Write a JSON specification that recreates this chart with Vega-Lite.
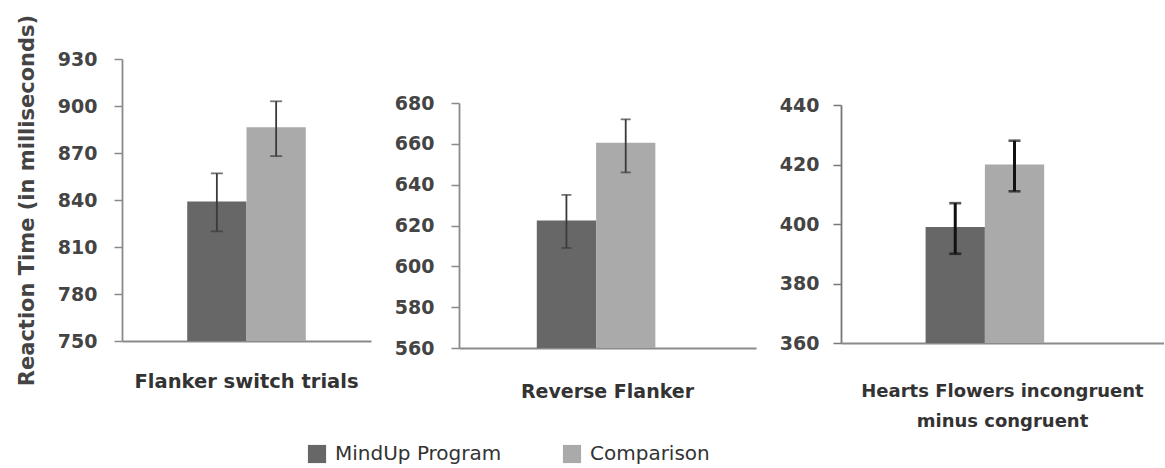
{
  "$schema": "https://vega.github.io/schema/vega-lite/v6.json",
  "padding": {"left": 16, "top": 14, "right": 0, "bottom": 0},
  "background": "white",
  "data": {"values": [
    {"task": "Flanker switch trials", "group": "MindUp Program", "mean": 839, "lo": 820, "hi": 857},
    {"task": "Flanker switch trials", "group": "Comparison", "mean": 886.5, "lo": 868, "hi": 903},
    {"task": "Reverse Flanker", "group": "MindUp Program", "mean": 622.5, "lo": 609, "hi": 635},
    {"task": "Reverse Flanker", "group": "Comparison", "mean": 660.5, "lo": 646, "hi": 672},
    {"task": "Hearts Flowers incongruent minus congruent", "group": "MindUp Program", "mean": 399, "lo": 390, "hi": 407},
    {"task": "Hearts Flowers incongruent minus congruent", "group": "Comparison", "mean": 420, "lo": 411, "hi": 428}
  ]},
  "spacing": 23,
  "hconcat": [
    {
      "width": 249, "height": 282,
      "transform": [{"filter": "datum.task == 'Flanker switch trials'"}],
      "encoding": {
        "x": {"field": "task", "type": "nominal", "scale": {"paddingOuter": 0.55, "paddingInner": 0}, "axis": {"title": null, "labelPadding": 31, "labelFontSize": 19.5}},
        "xOffset": {"field": "group", "type": "nominal", "sort": ["MindUp Program", "Comparison"], "scale": {"paddingInner": 0, "paddingOuter": 0}}
      },
      "layer": [
        {"mark": {"type": "bar", "clip": true},
         "encoding": {
           "y": {"field": "mean", "type": "quantitative", "scale": {"domain": [750, 930], "zero": false, "nice": false},
                 "axis": {"values": [750, 780, 810, 840, 870, 900, 930], "title": "Reaction Time (in milliseconds)"}},
           "color": {"field": "group", "type": "nominal", "scale": {"domain": ["MindUp Program", "Comparison"], "range": ["#676767", "#aaaaaa"]}, "legend": {"title": null}}
         }},
        {"mark": {"type": "rule", "color": "#3a3a3a", "strokeWidth": 1.8},
         "encoding": {"y": {"field": "lo", "type": "quantitative"}, "y2": {"field": "hi"}}},
        {"mark": {"type": "tick", "color": "#3a3a3a", "size": 12, "thickness": 1.8},
         "encoding": {"y": {"field": "lo", "type": "quantitative"}}},
        {"mark": {"type": "tick", "color": "#3a3a3a", "size": 12, "thickness": 1.8},
         "encoding": {"y": {"field": "hi", "type": "quantitative"}}}
      ]
    },
    {
      "width": 297, "height": 289,
      "transform": [{"filter": "datum.task == 'Reverse Flanker'"}],
      "encoding": {
        "x": {"field": "task", "type": "nominal", "scale": {"paddingOuter": 0.55, "paddingInner": 0}, "axis": {"title": null, "labelPadding": 34, "labelFontSize": 19}},
        "xOffset": {"field": "group", "type": "nominal", "sort": ["MindUp Program", "Comparison"], "scale": {"paddingInner": 0, "paddingOuter": 0}}
      },
      "layer": [
        {"mark": {"type": "bar", "clip": true},
         "encoding": {
           "y": {"field": "mean", "type": "quantitative", "scale": {"domain": [560, 680], "zero": false, "nice": false, "range": [289, 44]},
                 "axis": {"values": [560, 580, 600, 620, 640, 660, 680], "title": null}},
           "color": {"field": "group", "type": "nominal", "scale": {"domain": ["MindUp Program", "Comparison"], "range": ["#676767", "#aaaaaa"]}, "legend": {"title": null}}
         }},
        {"mark": {"type": "rule", "color": "#3a3a3a", "strokeWidth": 1.8},
         "encoding": {"y": {"field": "lo", "type": "quantitative"}, "y2": {"field": "hi"}}},
        {"mark": {"type": "tick", "color": "#3a3a3a", "size": 10, "thickness": 1.8},
         "encoding": {"y": {"field": "lo", "type": "quantitative"}}},
        {"mark": {"type": "tick", "color": "#3a3a3a", "size": 10, "thickness": 1.8},
         "encoding": {"y": {"field": "hi", "type": "quantitative"}}}
      ]
    },
    {
      "width": 323, "height": 284,
      "transform": [{"filter": "datum.task == 'Hearts Flowers incongruent minus congruent'"}],
      "encoding": {
        "x": {"field": "task", "type": "nominal", "scale": {"paddingOuter": 0.55, "paddingInner": 0},
              "axis": {"title": null, "labelPadding": 39, "labelFontSize": 18, "labelExpr": "['Hearts Flowers incongruent', 'minus congruent']", "labelLineHeight": 30}},
        "xOffset": {"field": "group", "type": "nominal", "sort": ["MindUp Program", "Comparison"], "scale": {"paddingInner": 0, "paddingOuter": 0}}
      },
      "layer": [
        {"mark": {"type": "bar", "clip": true},
         "encoding": {
           "y": {"field": "mean", "type": "quantitative", "scale": {"domain": [360, 440], "zero": false, "nice": false, "range": [284, 46]},
                 "axis": {"values": [360, 380, 400, 420, 440], "title": null, "labelPadding": 14, "domainColor": "#777777", "tickColor": "#777777"}},
           "color": {"field": "group", "type": "nominal", "scale": {"domain": ["MindUp Program", "Comparison"], "range": ["#676767", "#aaaaaa"]}, "legend": {"title": null}}
         }},
        {"mark": {"type": "rule", "color": "#111111", "strokeWidth": 3},
         "encoding": {"y": {"field": "lo", "type": "quantitative"}, "y2": {"field": "hi"}}},
        {"mark": {"type": "tick", "color": "#111111", "size": 12, "thickness": 2.6},
         "encoding": {"y": {"field": "lo", "type": "quantitative"}}},
        {"mark": {"type": "tick", "color": "#111111", "size": 12, "thickness": 2.6},
         "encoding": {"y": {"field": "hi", "type": "quantitative"}}}
      ]
    }
  ],
  "resolve": {"scale": {"y": "independent"}},
  "config": {
    "font": "DejaVu Sans",
    "view": {"stroke": null},
    "axis": {
      "labelFont": "DejaVu Sans", "labelFontSize": 19, "labelColor": "#444444", "labelFontWeight": "bold", "labelLimit": 0,
      "domainColor": "#8a8a8a", "domainWidth": 1.8, "tickColor": "#8a8a8a", "tickWidth": 1.5, "tickSize": 8,
      "grid": false, "titleFont": "DejaVu Sans", "titleFontSize": 21, "titleFontWeight": "bold", "titleColor": "#444444", "titlePadding": 20
    },
    "axisY": {"labelPadding": 17},
    "axisX": {"ticks": false, "labelAngle": 0, "labelColor": "#333333", "labelFontWeight": "bold"},
    "legend": {
      "orient": "none", "legendX": 185, "legendY": 385, "direction": "horizontal",
      "labelFont": "DejaVu Sans", "labelFontSize": 20, "labelColor": "#333333", "labelLimit": 0,
      "symbolType": "square", "symbolSize": 330, "symbolStrokeWidth": 0, "columnPadding": 60, "labelOffset": 8
    }
  }
}
